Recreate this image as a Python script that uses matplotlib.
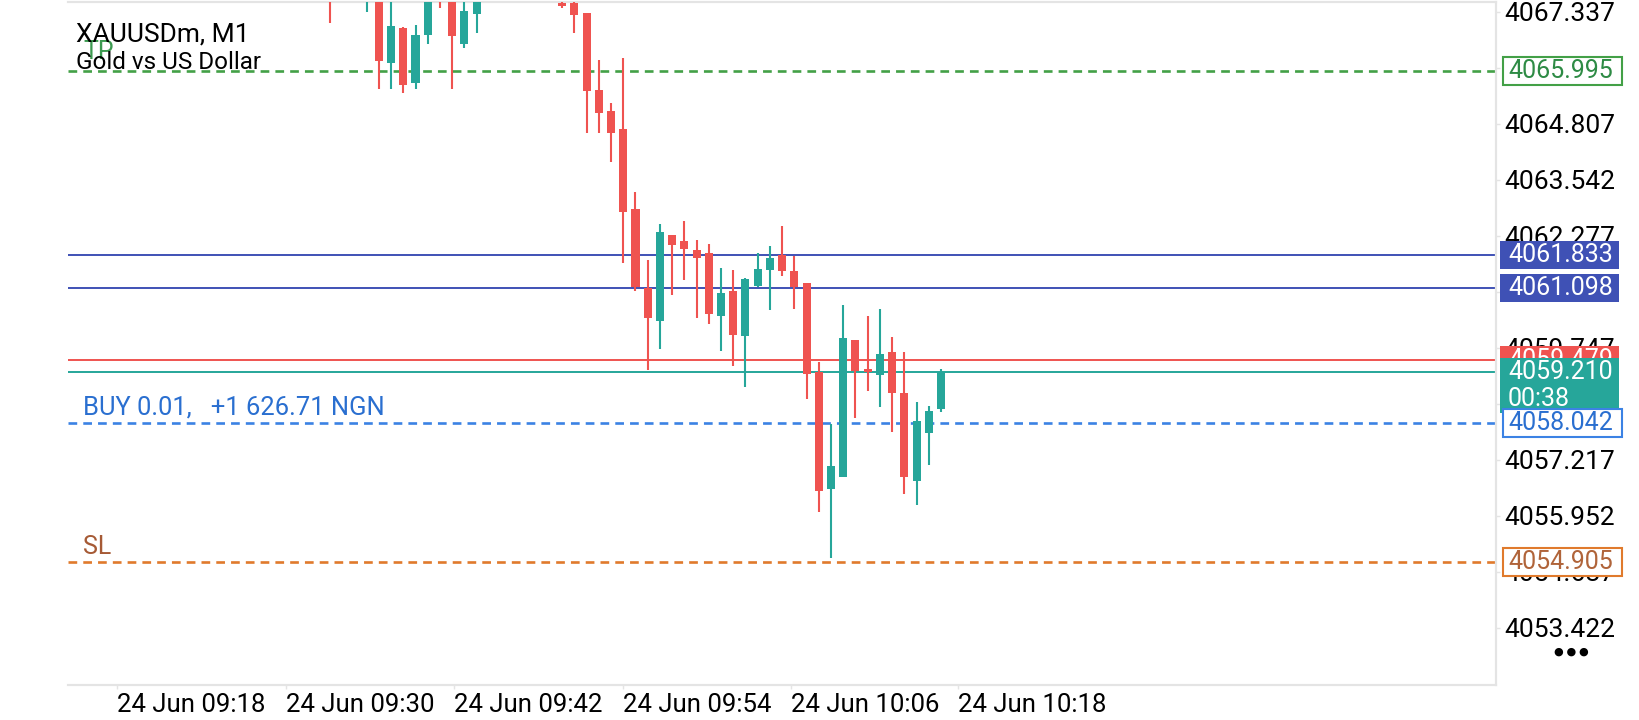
import matplotlib
matplotlib.use("Agg")
import matplotlib.pyplot as plt
from matplotlib.patches import Rectangle
from matplotlib.transforms import blended_transform_factory

plt.rcParams['font.family'] = ['Roboto', 'DejaVu Sans']

# M1 candles, oldest first (prices above the top edge are off-screen)
opens = [4068.30, 4067.70, 4068.05, 4067.75, 4068.25, 4066.18, 4066.96, 4065.72, 4066.81, 4068.40,
         4068.20, 4066.61, 4067.29, 4067.90, 4068.30, 4068.70, 4068.50, 4068.10, 4067.95, 4067.52,
         4067.52, 4067.30, 4065.57, 4065.09, 4064.69, 4062.87, 4061.10, 4060.36, 4062.29, 4062.16,
         4061.95, 4061.89, 4060.47, 4061.03, 4060.02, 4061.14, 4061.50, 4061.84, 4061.49, 4061.20,
         4059.21, 4056.56, 4056.84, 4059.92, 4059.26, 4059.13, 4059.65, 4058.72, 4056.75, 4057.83,
         4058.37]
highs = [4068.55, 4068.20, 4068.40, 4068.50, 4068.40, 4067.75, 4066.98, 4067.03, 4068.10, 4068.60,
         4068.45, 4067.75, 4068.10, 4068.50, 4068.90, 4069.10, 4068.80, 4068.40, 4068.20, 4067.70,
         4067.65, 4067.30, 4066.24, 4065.28, 4066.30, 4063.26, 4061.73, 4062.54, 4062.29, 4062.61,
         4062.18, 4062.09, 4061.55, 4061.50, 4061.33, 4061.89, 4062.05, 4062.50, 4061.82, 4061.20,
         4059.43, 4058.02, 4060.71, 4059.92, 4060.46, 4060.62, 4060.00, 4059.65, 4058.53, 4058.43,
         4059.26]
lows = [4067.08, 4067.62, 4067.80, 4067.33, 4065.59, 4065.59, 4065.51, 4065.58, 4066.60, 4067.41,
        4065.60, 4066.52, 4066.86, 4067.70, 4068.10, 4068.30, 4067.90, 4067.70, 4067.65, 4067.41,
        4066.85, 4064.59, 4064.60, 4063.95, 4061.65, 4061.04, 4059.25, 4059.72, 4060.94, 4061.28,
        4060.43, 4060.28, 4059.68, 4059.34, 4058.87, 4061.13, 4060.60, 4061.37, 4060.62, 4058.59,
        4056.05, 4055.00, 4056.84, 4058.17, 4058.78, 4058.42, 4057.85, 4056.44, 4056.20, 4057.09,
        4058.29]
closes = [4067.70, 4068.05, 4068.25, 4068.30, 4066.22, 4067.01, 4065.68, 4066.81, 4067.85, 4067.80,
          4066.79, 4067.35, 4067.90, 4068.30, 4068.70, 4068.50, 4068.10, 4067.95, 4067.80, 4067.46,
          4067.26, 4065.55, 4065.05, 4064.60, 4062.81, 4061.11, 4060.41, 4062.36, 4062.07, 4061.98,
          4061.78, 4060.51, 4060.99, 4060.04, 4061.29, 4061.52, 4061.78, 4061.49, 4061.11, 4059.15,
          4056.52, 4057.08, 4059.96, 4059.22, 4059.19, 4059.61, 4058.73, 4056.84, 4058.09, 4058.32,
          4059.21]

price_ticks = [4053.422, 4054.687, 4055.952, 4057.217, 4058.482, 4059.747,
               4061.012, 4062.277, 4063.542, 4064.807, 4066.072, 4067.337]
time_labels = ['24 Jun 09:18', '24 Jun 09:30', '24 Jun 09:42',
               '24 Jun 09:54', '24 Jun 10:06', '24 Jun 10:18']
time_pos = [-17.39, -3.60, 10.18, 23.96, 37.74, 51.41]  # in bars

tp_price = 4065.995
sl_price = 4054.905
entry_price = 4058.042
level_prices = [4061.833, 4061.098]
ask_price = 4059.479
bid_price = 4059.210
bar_timer = '00:38'
order_text = 'BUY 0.01,   +1 626.71 NGN'

UP = '#26a69a'
DOWN = '#ef5350'
LEVEL = '#3f51b5'
TP_C = '#43a047'
BUY_C = '#3b82e4'
SL_C = '#e07a2c'
GRID = '#e4e4e4'
FS = 19
BOX_FS = 18

W, H = 1640, 720
fig = plt.figure(figsize=(W / 100, H / 100), dpi=100)
ax = fig.add_axes([68 / W, 35 / H, 1428 / W, 683 / H])
ax.set_xlim(-21.44, 95.42)
ax.set_ylim(4052.135, 4067.553)
ppx = (4067.553 - 4052.135) / 683  # price per pixel

# horizontal lines (under the candles)
dash = (0, (3.3, 2.3))
ax.axhline(tp_price, color=TP_C, lw=1.9, ls=dash, zorder=1)
ax.axhline(entry_price, color=BUY_C, lw=1.9, ls=dash, zorder=1)
ax.axhline(sl_price, color=SL_C, lw=1.9, ls=dash, zorder=1)
for p in level_prices:
    ax.axhline(p, color=LEVEL, lw=1.4, zorder=1)
ax.axhline(ask_price, color=DOWN, lw=1.4, zorder=1)
ax.axhline(bid_price, color=UP, lw=1.4, zorder=1)

# candles
idx = list(range(len(opens)))
cols = [UP if c >= o else DOWN for o, c in zip(opens, closes)]
ax.vlines(idx, lows, highs, colors=cols, lw=1.5, zorder=3)
bottoms = [min(o, c) for o, c in zip(opens, closes)]
heights = [max(abs(c - o), ppx) for o, c in zip(opens, closes)]
ax.bar(idx, heights, bottom=bottoms, width=0.66, color=cols, zorder=4)

# spines and ticks
for s in ['top', 'right', 'bottom']:
    ax.spines[s].set_color(GRID)
    ax.spines[s].set_linewidth(1.6)
ax.spines['left'].set_visible(False)
ax.yaxis.tick_right()
ax.set_yticks(price_ticks)
ax.set_yticklabels(['%.3f' % v for v in price_ticks])
ax.tick_params(axis='y', length=3, width=1, color=GRID, pad=3, labelsize=FS, labelcolor='black')
ax.set_xticks(time_pos)
ax.set_xticklabels(time_labels, ha='left')
ax.tick_params(axis='x', length=3, width=1, color=GRID, pad=3, labelsize=18.5, labelcolor='black')

# price labels on the right
trans = blended_transform_factory(fig.transFigure, ax.transData)
bh = 28 * ppx


def price_box(price, text, face, edge, tcolor, z):
    if face == 'white':
        rect = Rectangle((1502.7 / W, price - bh / 2), 119 / W, bh, transform=trans,
                         facecolor='white', edgecolor=edge, lw=1.5, clip_on=False, zorder=z)
    else:
        rect = Rectangle((1500 / W, price - bh / 2), 119 / W, bh, transform=trans,
                         facecolor=face, edgecolor='none', clip_on=False, zorder=z)
    ax.add_patch(rect)
    ax.text(1508 / W, price, text, transform=trans, color=tcolor, fontsize=BOX_FS,
            va='center', ha='left', clip_on=False, zorder=z + 0.5)


price_box(tp_price, '%.3f' % tp_price, 'white', TP_C, '#2e8b45', 10)
for p in level_prices:
    price_box(p, '%.3f' % p, LEVEL, None, 'white', 10)
price_box(ask_price, '%.3f' % ask_price, DOWN, None, 'white', 10)
# bid box with bar timer, two lines
ax.add_patch(Rectangle((1500 / W, bid_price - 41.6 * ppx), 119 / W, 55 * ppx, transform=trans,
                       facecolor=UP, edgecolor='none', clip_on=False, zorder=12))
ax.text(1508 / W, bid_price, '%.3f' % bid_price, transform=trans, color='white', fontsize=BOX_FS,
        va='center', ha='left', clip_on=False, zorder=12.5)
ax.text(1508 / W, bid_price - 27 * ppx, bar_timer, transform=trans, color='white', fontsize=BOX_FS,
        va='center', ha='left', clip_on=False, zorder=12.5)
price_box(entry_price, '%.3f' % entry_price, 'white', BUY_C, '#2a6fd0', 14)
price_box(sl_price, '%.3f' % sl_price, 'white', SL_C, '#b0643a', 14)

# line captions on the left
ltrans = blended_transform_factory(ax.transAxes, ax.transData)
ax.text(15 / 1428, tp_price + 12 * ppx, 'TP', transform=ltrans, color='#3c9a50', fontsize=18,
        va='baseline', zorder=6)
ax.text(15 / 1428, entry_price + 9 * ppx, order_text, transform=ltrans, color='#2a6fd0',
        fontsize=18.4, va='baseline', zorder=6)
ax.text(15 / 1428, sl_price + 8 * ppx, 'SL', transform=ltrans, color='#a65a35', fontsize=18,
        va='baseline', zorder=6)

# symbol caption
fig.text(76 / W, 1 - 41.7 / H, 'XAUUSDm, M1', fontsize=19, color='black', va='baseline')
fig.text(76 / W, 1 - 69.3 / H, 'Gold vs US Dollar', fontsize=17.5, color='black', va='baseline')

# menu dots
fig.text(1571 / W, 1 - 652 / H, '\u25CF \u25CF \u25CF', fontsize=8, color='black',
         ha='center', va='center')

fig.savefig('out.png', dpi=100)
